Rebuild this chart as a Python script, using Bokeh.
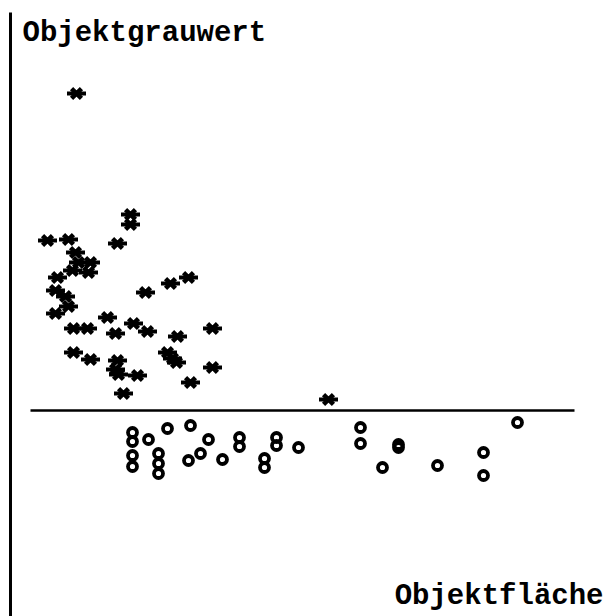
from bokeh.plotting import figure
from bokeh.models import Range1d
from bokeh.embed import file_html
from bokeh.resources import INLINE
from bokeh.core.properties import value

# Group 1 (asterisks): Objektfläche, Objektgrauwert
star_area = [13.2, 24.0, 24.0, 21.4, 7.4, 11.6, 13.0, 13.6, 16.0, 15.6,
             12.4, 9.4, 9.0, 11.0, 9.0, 11.6, 27.0, 32.0, 35.6, 12.6,
             15.4, 19.4, 21.0, 24.6, 27.4, 12.6, 16.0, 21.4, 21.0, 21.6,
             25.4, 22.6, 33.4, 31.4, 32.4, 33.2, 40.4, 40.4, 36.0, 63.6]
star_gray = [104.6, 80.4, 78.4, 74.6, 75.2, 75.4, 72.8, 70.8, 70.8, 68.8,
             69.2, 67.8, 65.2, 64.0, 60.6, 62.0, 64.8, 66.6, 67.8, 57.6,
             57.6, 59.8, 56.6, 58.6, 57.0, 52.8, 51.4, 51.2, 49.4, 48.4,
             48.2, 44.6, 56.0, 52.8, 51.6, 50.8, 57.6, 49.8, 46.8, 43.4]

# Group 2 (circles)
circ_area = [24.4, 24.4, 24.4, 24.4, 27.6, 31.4, 36.0, 29.6, 29.6, 29.6,
             35.6, 38.0, 39.6, 42.4, 45.8, 45.8, 53.2, 53.2, 50.8, 50.8,
             57.6, 70.0, 70.0, 77.6, 77.6, 74.4, 85.4, 94.6, 94.6, 101.4]
circ_gray = [36.8, 35.0, 32.2, 30.0, 35.4, 37.6, 38.2, 32.6, 30.6, 28.6,
             31.2, 32.6, 35.4, 31.4, 35.8, 34.0, 35.8, 34.2, 31.6, 29.8,
             33.8, 37.8, 34.6, 34.4, 33.8, 29.8, 30.2, 32.8, 28.2, 38.8]

# Separating line and axis
sep_gray = 41.2
sep_area = [4.0, 112.8]
axis_area = 0.0
axis_gray = [0.0, 120.8]

y_label = "Objektgrauwert"
x_label = "Objektfläche"

p = figure(width=610, height=616, output_backend="svg", toolbar_location=None,
           x_range=Range1d(-2.0, 120.0), y_range=Range1d(0.0, 123.2),
           min_border=0, min_border_left=0, min_border_right=0,
           min_border_top=0, min_border_bottom=0)
p.axis.visible = False
p.grid.visible = False
p.outline_line_color = None
p.background_fill_color = "white"

p.segment(x0=[axis_area], y0=[axis_gray[0]], x1=[axis_area], y1=[axis_gray[1]],
          line_color="black", line_width=3)
p.segment(x0=[sep_area[0]], y0=[sep_gray], x1=[sep_area[1]], y1=[sep_gray],
          line_color="black", line_width=2.5)

p.scatter(star_area, star_gray, marker="x", size=14, line_width=4.5,
          line_color="black")
p.scatter(star_area, star_gray, marker="dash", size=19, line_width=4,
          line_color="black")

p.scatter(circ_area, circ_gray, marker="circle", size=9, line_width=3.8,
          line_color="black", fill_color=None)

p.text(x=[2.4], y=[116.6], text=[y_label], text_font=value("Liberation Mono"),
       text_font_style="bold", text_font_size="29px", text_color="black",
       text_baseline="alphabetic", text_align="left")
p.text(x=[118.6], y=[4.0], text=[x_label], text_font=value("Liberation Mono"),
       text_font_style="bold", text_font_size="29px", text_color="black",
       text_baseline="alphabetic", text_align="right")

open("out.html", "w").write(file_html(p, INLINE))
